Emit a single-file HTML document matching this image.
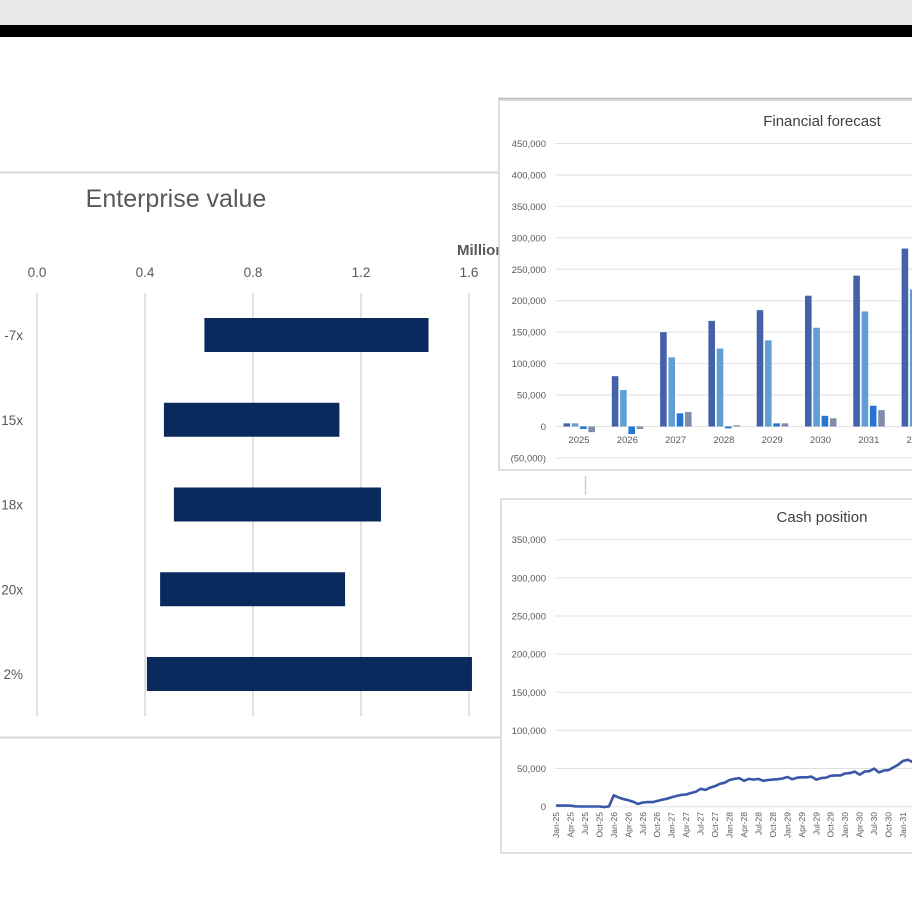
<!DOCTYPE html>
<html><head><meta charset="utf-8"><style>
html,body{margin:0;padding:0;background:#fff;}
svg{display:block;font-family:"Liberation Sans",Arial,sans-serif;}
</style></head><body>
<svg id="s" width="912" height="912" viewBox="0 0 912 912">
<rect x="0" y="0" width="912" height="25" fill="#e9e9e9"/>
<rect x="0" y="25" width="912" height="12" fill="#000"/>
<g id="ev">
<line x1="0" y1="172.5" x2="500" y2="172.5" stroke="#d9d9d9" stroke-width="2"/>
<line x1="0" y1="737.5" x2="500" y2="737.5" stroke="#d9d9d9" stroke-width="2"/>
<text x="176" y="207" font-size="25" fill="#595959" text-anchor="middle">Enterprise value</text>
<text x="457" y="255" font-size="15" font-weight="bold" fill="#595959">Millions</text>
</g>
<g id="ff">
<rect x="499" y="100" width="420" height="370" fill="#fff" stroke="#d4d4d4" stroke-width="1.5"/>
<line x1="498" y1="98.5" x2="912" y2="98.5" stroke="#bdbdbd" stroke-width="1.5"/>
<text x="822" y="126" font-size="15" fill="#404040" text-anchor="middle">Financial forecast</text>
</g>
<line x1="585.5" y1="476" x2="585.5" y2="495" stroke="#cfcfcf" stroke-width="1.5"/>
<g id="cp">
<rect x="501" y="499" width="420" height="354" fill="#fff" stroke="#d4d4d4" stroke-width="1.5"/>
<text x="822" y="522" font-size="15" fill="#404040" text-anchor="middle">Cash position</text>
</g>
</svg>
<script>
const NS="http://www.w3.org/2000/svg";
function mk(p,t,a){const e=document.createElementNS(NS,t);for(const k in a)e.setAttribute(k,a[k]);p.appendChild(e);return e;}

// ---- Enterprise value data ----
const evCategories=["-7x","15x","18x","20x","2%"];
const evLow=[0.62,0.47,0.507,0.456,0.407];
const evHigh=[1.45,1.12,1.274,1.141,1.611];
const evTicks=[0.0,0.4,0.8,1.2,1.6];

// ---- Financial forecast data ----
const ffYears=["2025","2026","2027","2028","2029","2030","2031","2032"];
const ffS1=[5000,80000,150000,168000,185000,208000,240000,283000];
const ffS2=[5000,58000,110000,124000,137000,157000,183000,218000];
const ffS3=[-4000,-12000,21000,-3000,5000,17000,33000,40000];
const ffS4=[-9000,-4000,23000,2000,5000,13000,26000,32000];
const ffTicks=[-50000,0,50000,100000,150000,200000,250000,300000,350000,400000,450000];

// ---- Cash position data (monthly, thousands) ----
const cashValues=[1.5,1.5,1.5,1.3,0.5,0.3,0.3,0.3,0.3,0.3,-0.5,0.5,
15,12,10,8.5,6.5,3.5,5.5,6,6,7.5,9,10.5,
12.5,14,15.5,16,18,19.5,23.5,22,25,27,30,31.5,
35,36.5,37.5,34,36.5,35.5,36.5,34,35,35.5,36,37,
39,36,38,38.5,38.5,39.5,35.5,37.5,38,40.5,41,41,
43.5,44,46,42,46,46.5,50,45,47.5,48,51.5,55,
60,61.5,58.5];
const cashTicks=[0,50000,100000,150000,200000,250000,300000,350000];
const monthNames=["Jan","Apr","Jul","Oct"];

const fmt=v=>v<0?"("+Math.abs(v).toLocaleString("en-US")+")":v.toLocaleString("en-US");

// Enterprise value chart
const ev=document.getElementById("ev");
const evX=v=>37+v*270;
evTicks.forEach(t=>{
  const g=mk(ev,"line",{x1:evX(t),y1:293,x2:evX(t),y2:716,stroke:"#d9d9d9","stroke-width":1.5});
  
  
  const l=mk(ev,"text",{x:evX(t),y:277,"font-size":13.5,fill:"#595959","text-anchor":"middle"});
  l.textContent=t.toFixed(1);
  
  
});
evCategories.forEach((c,i)=>{
  const cy=335+i*84.75;
  const r=mk(ev,"rect",{x:evX(evLow[i]),y:cy-17,width:evX(evHigh[i])-evX(evLow[i]),height:34,fill:"#0a2a5e"});
  
  
  const l=mk(ev,"text",{x:23,y:cy+5,"font-size":13.5,fill:"#595959","text-anchor":"end"});
  l.textContent=c;
  
  
});

// Financial forecast chart
const ff=document.getElementById("ff");
const ffY=v=>426.5-v/50000*31.44;
ffTicks.forEach(t=>{
  const g=mk(ff,"line",{x1:555,y1:ffY(t),x2:912,y2:ffY(t),stroke:"#e0e0e0","stroke-width":1});
  
  
  const l=mk(ff,"text",{x:546,y:ffY(t)+3.5,"font-size":9.5,fill:"#595959","text-anchor":"end"});
  l.textContent=fmt(t);
  
  
});
const series=[ffS1,ffS2,ffS3,ffS4];
const cols=["#4461a9","#5f9fd6","#2674d4","#7f8ea8"];
ffYears.forEach((yr,i)=>{
  const cx=579+i*48.3;
  series.forEach((s,j)=>{
    const v=s[i];
    const y0=ffY(Math.max(0,v)),y1=ffY(Math.min(0,v));
    const r=mk(ff,"rect",{x:cx-15.5+j*8.3,y:y0,width:6.6,height:Math.max(0.5,y1-y0),fill:cols[j]});
    
    
  });
  const l=mk(ff,"text",{x:cx,y:443,"font-size":9.5,fill:"#595959","text-anchor":"middle"});
  l.textContent=yr;
  
  
});

// Cash position chart
const cp=document.getElementById("cp");
const cY=v=>806.7-v/50000*38.14;
const cX=i=>556+i*4.82;
cashTicks.forEach(t=>{
  const g=mk(cp,"line",{x1:555,y1:cY(t),x2:912,y2:cY(t),stroke:"#e0e0e0","stroke-width":1});
  
  
  const l=mk(cp,"text",{x:546,y:cY(t)+3.5,"font-size":9.5,fill:"#595959","text-anchor":"end"});
  l.textContent=fmt(t);
  
  
});
for(let i=0;i<cashValues.length;i+=3){
  const yr=25+Math.floor(i/12);
  const lab=monthNames[(i%12)/3]+"-"+yr;
  const x=cX(i);
  const l=mk(cp,"text",{x:0,y:0,"font-size":8.5,fill:"#595959","text-anchor":"end",transform:"translate("+(x+3)+",812) rotate(-90)"});
  l.textContent=lab;
  
  
}
const pts=cashValues.map((v,i)=>cX(i).toFixed(1)+","+cY(v*1000).toFixed(1)).join(" ");
const pl=mk(cp,"polyline",{points:pts,fill:"none",stroke:"#3a56a8","stroke-width":2.6,"stroke-linejoin":"round"});


</script>
</body></html>
